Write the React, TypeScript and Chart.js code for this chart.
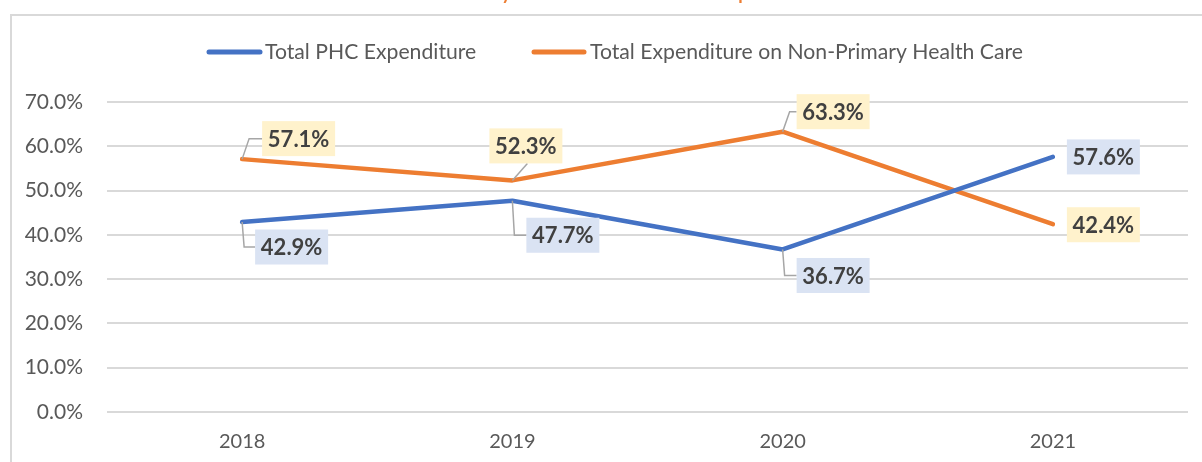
import React, { useEffect, useRef } from "react";
import { Chart, registerables } from "chart.js";

Chart.register(...registerables);

const categories = ["2018", "2019", "2020", "2021"];
const phcValues = [42.9, 47.7, 36.7, 57.6];
const nonPhcValues = [57.1, 52.3, 63.3, 42.4];
const seriesNames = ["Total PHC Expenditure", "Total Expenditure on Non-Primary Health Care"];
const titleText = "Share of Primary Health Care vs Non-PHC Expenditure";

const BLUE = "#4472C4";
const ORANGE = "#ED7D31";
const BLUE_BG = "#DAE3F3";
const ORANGE_BG = "#FFF2CC";
const AXIS_FONT = "Lato";

// label placement relative to each point: [dx, dy] to box top-left, leader style
type Place = { dx: number; dy: number; leader: "elbow" | "diag" | "none" };
const placements: Place[][] = [
  [
    { dx: 13, dy: 7.5, leader: "elbow" },
    { dx: 14, dy: 17, leader: "elbow" },
    { dx: 14, dy: 8.5, leader: "elbow" },
    { dx: 14, dy: -17.5, leader: "none" },
  ],
  [
    { dx: 20, dy: -38, leader: "elbow" },
    { dx: -23, dy: -52, leader: "diag" },
    { dx: 14, dy: -37.5, leader: "elbow" },
    { dx: 14, dy: -17, leader: "none" },
  ],
];

const decorPlugin = {
  id: "decor",
  beforeDraw(chart: any) {
    const ctx = chart.ctx;
    ctx.save();
    // outer frame
    ctx.strokeStyle = "#d9d9d9";
    ctx.lineWidth = 2;
    ctx.beginPath();
    ctx.moveTo(11, 470);
    ctx.lineTo(11, 15);
    ctx.lineTo(1210, 15);
    ctx.stroke();
    // clipped title (only descenders visible)
    ctx.fillStyle = ORANGE;
    ctx.font = `bold 18px ${AXIS_FONT}`;
    ctx.textAlign = "center";
    ctx.textBaseline = "alphabetic";
    ctx.fillText(titleText, 597, -0.5);
    // legend
    const items = [
      { x1: 207, x2: 262, tx: 265, color: BLUE, text: seriesNames[0] },
      { x1: 532, x2: 586, tx: 590, color: ORANGE, text: seriesNames[1] },
    ];
    ctx.textAlign = "left";
    ctx.textBaseline = "middle";
    ctx.font = `21.2px ${AXIS_FONT}`;
    items.forEach((it) => {
      ctx.strokeStyle = it.color;
      ctx.lineWidth = 5;
      ctx.lineCap = "round";
      ctx.beginPath();
      ctx.moveTo(it.x1 + 2, 52);
      ctx.lineTo(it.x2 - 2, 52);
      ctx.stroke();
      ctx.fillStyle = "#595959";
      ctx.fillText(it.text, it.tx, 52);
    });
    ctx.restore();
  },
  afterDatasetsDraw(chart: any) {
    const ctx = chart.ctx;
    ctx.save();
    const W = 73;
    const H = 35;
    [0, 1].forEach((di) => {
      const meta = chart.getDatasetMeta(di);
      const values = di === 0 ? phcValues : nonPhcValues;
      meta.data.forEach((pt: any, i: number) => {
        const p = placements[di][i];
        const bx = pt.x + p.dx;
        const by = pt.y + p.dy;
        // leader
        ctx.strokeStyle = "#a6a6a6";
        ctx.lineWidth = 1.5;
        ctx.lineCap = "butt";
        if (p.leader === "elbow") {
          const cy = by + H / 2;
          ctx.beginPath();
          ctx.moveTo(pt.x, pt.y);
          ctx.lineTo(pt.x + (cy < pt.y ? 7 : 2), cy);
          ctx.lineTo(bx, cy);
          ctx.stroke();
        } else if (p.leader === "diag") {
          ctx.beginPath();
          ctx.moveTo(pt.x, pt.y);
          ctx.lineTo(pt.x + 15, by + H);
          ctx.stroke();
        }
        ctx.fillStyle = di === 0 ? BLUE_BG : ORANGE_BG;
        ctx.fillRect(bx, by, W, H);
        ctx.fillStyle = "#404040";
        ctx.font = `bold 22px ${AXIS_FONT}`;
        ctx.textAlign = "center";
        ctx.textBaseline = "middle";
        ctx.fillText(values[i].toFixed(1) + "%", bx + W / 2, by + H / 2 + 1);
      });
    });
    ctx.restore();
  },
};

export default function App() {
  const ref = useRef<HTMLCanvasElement>(null);
  useEffect(() => {
    if (!ref.current) return;
    const chart = new Chart(ref.current, {
      type: "line",
      data: {
        labels: categories,
        datasets: [
          {
            label: seriesNames[0],
            data: phcValues,
            borderColor: BLUE,
            backgroundColor: BLUE,
            borderWidth: 4.5,
            borderCapStyle: "round",
            borderJoinStyle: "round",
            pointRadius: 0,
            tension: 0,
          },
          {
            label: seriesNames[1],
            data: nonPhcValues,
            borderColor: ORANGE,
            backgroundColor: ORANGE,
            borderWidth: 4.5,
            borderCapStyle: "round",
            borderJoinStyle: "round",
            pointRadius: 0,
            tension: 0,
          },
        ],
      },
      options: {
        responsive: false,
        animation: false,
        layout: { padding: { top: 102, right: 14, left: 0, bottom: 0 } },
        plugins: {
          legend: { display: false },
          title: { display: false },
          tooltip: { enabled: false },
        },
        scales: {
          x: {
            offset: true,
            grid: { display: false, drawTicks: false },
            border: { display: false },
            ticks: {
              color: "#595959",
              font: { family: AXIS_FONT, size: 20 },
              padding: 18,
            },
            afterFit: (s: any) => {
              s.height = 50;
            },
          },
          y: {
            min: 0,
            max: 70,
            grid: { color: "#d9d9d9", lineWidth: 2, drawTicks: false },
            border: { display: false },
            ticks: {
              stepSize: 10,
              color: "#595959",
              font: { family: AXIS_FONT, size: 21 },
              padding: 24,
              callback: (v: any) => Number(v).toFixed(1) + "%",
            },
            afterFit: (s: any) => {
              s.width = 107;
            },
          },
        },
      },
      plugins: [decorPlugin],
    });
    return () => chart.destroy();
  }, []);
  return (
    <div style={{ position: "fixed", left: 0, top: 0, width: 1202, height: 462, background: "#fff" }}>
      <canvas ref={ref} width={1202} height={462} />
    </div>
  );
}
